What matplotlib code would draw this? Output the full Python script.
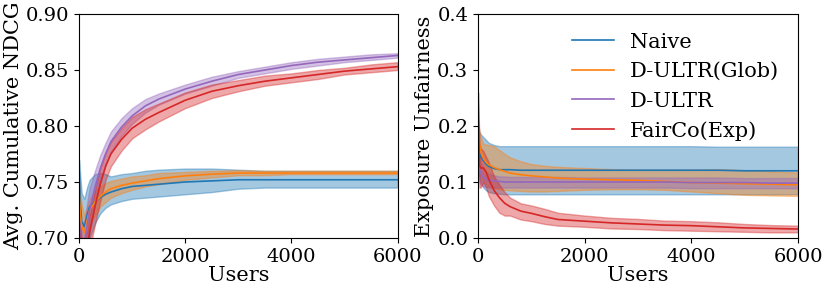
import matplotlib
matplotlib.use('Agg')
import matplotlib.pyplot as plt

plt.rcParams['font.family'] = ['DejaVu Serif']

# number of users (x positions of the read-off points)
users = [0, 25, 50, 100, 150, 200, 300, 400, 500, 600, 800, 1000, 1250, 1500,
         2000, 2500, 3000, 3500, 4000, 4500, 5000, 5500, 6000]

labels = ['Naive', 'D-ULTR(Glob)', 'D-ULTR', 'FairCo(Exp)']
colors = ['tab:blue', 'tab:orange', 'tab:purple', 'tab:red']

# left panel: avg. cumulative NDCG
ndcg_naive = [0.765, 0.73, 0.715, 0.71, 0.72, 0.728, 0.732, 0.736, 0.739, 0.741, 0.744, 0.746,
              0.747, 0.748, 0.750, 0.751, 0.752, 0.752, 0.752, 0.752, 0.752, 0.752, 0.752]
ndcg_naive_lo = [0.74, 0.70, 0.69, 0.685, 0.69, 0.70, 0.713, 0.722, 0.727, 0.730, 0.733, 0.735,
                 0.736, 0.737, 0.739, 0.741, 0.744, 0.745, 0.745, 0.745, 0.745, 0.745, 0.745]
ndcg_naive_hi = [0.77, 0.755, 0.74, 0.735, 0.745, 0.752, 0.757, 0.758, 0.757, 0.755, 0.757, 0.758,
                 0.760, 0.761, 0.762, 0.762, 0.761, 0.760, 0.760, 0.760, 0.760, 0.760, 0.760]

ndcg_glob = [0.745, 0.72, 0.71, 0.705, 0.715, 0.725, 0.732, 0.737, 0.741, 0.744, 0.747, 0.749,
             0.751, 0.753, 0.7555, 0.757, 0.758, 0.758, 0.758, 0.758, 0.758, 0.758, 0.758]
ndcg_glob_lo = [0.72, 0.70, 0.69, 0.69, 0.70, 0.712, 0.72, 0.728, 0.732, 0.736, 0.74, 0.743,
                0.746, 0.748, 0.752, 0.754, 0.756, 0.756, 0.757, 0.757, 0.757, 0.757, 0.757]
ndcg_glob_hi = [0.75, 0.74, 0.73, 0.72, 0.728, 0.735, 0.742, 0.746, 0.749, 0.751, 0.753, 0.755,
                0.756, 0.758, 0.759, 0.760, 0.7605, 0.760, 0.760, 0.760, 0.760, 0.760, 0.760]

ndcg_dultr = [0.72, 0.70, 0.69, 0.695, 0.71, 0.725, 0.745, 0.762, 0.775, 0.786, 0.799, 0.809,
              0.818, 0.824, 0.833, 0.840, 0.846, 0.850, 0.854, 0.857, 0.859, 0.861, 0.863]
ndcg_dultr_lo = [0.70, 0.68, 0.67, 0.675, 0.69, 0.705, 0.73, 0.750, 0.765, 0.777, 0.791, 0.802,
                 0.812, 0.819, 0.829, 0.836, 0.843, 0.847, 0.851, 0.854, 0.857, 0.859, 0.861]
ndcg_dultr_hi = [0.74, 0.72, 0.71, 0.715, 0.73, 0.745, 0.760, 0.774, 0.785, 0.795, 0.807, 0.816,
                 0.824, 0.829, 0.837, 0.844, 0.849, 0.853, 0.857, 0.860, 0.862, 0.864, 0.865]

ndcg_fairco = [0.71, 0.69, 0.68, 0.68, 0.69, 0.705, 0.728, 0.748, 0.764, 0.775, 0.788, 0.798,
               0.806, 0.812, 0.823, 0.831, 0.836, 0.840, 0.843, 0.846, 0.849, 0.851, 0.853]
ndcg_fairco_lo = [0.69, 0.67, 0.66, 0.66, 0.675, 0.69, 0.712, 0.733, 0.752, 0.764, 0.778, 0.789,
                  0.797, 0.804, 0.816, 0.825, 0.831, 0.836, 0.839, 0.842, 0.846, 0.848, 0.850]
ndcg_fairco_hi = [0.73, 0.71, 0.70, 0.70, 0.705, 0.72, 0.743, 0.762, 0.776, 0.786, 0.798, 0.808,
                  0.815, 0.820, 0.830, 0.837, 0.841, 0.845, 0.847, 0.850, 0.852, 0.855, 0.857]

# right panel: exposure unfairness
unf_naive = [0.16, 0.15, 0.145, 0.138, 0.132, 0.128, 0.124, 0.122, 0.122, 0.122, 0.121, 0.121,
             0.121, 0.121, 0.121, 0.121, 0.121, 0.121, 0.121, 0.121, 0.120, 0.120, 0.120]
unf_naive_lo = [0.12, 0.11, 0.10, 0.09, 0.085, 0.082, 0.080, 0.079, 0.078, 0.078, 0.078, 0.078,
                0.078, 0.078, 0.078, 0.078, 0.078, 0.078, 0.078, 0.078, 0.078, 0.078, 0.078]
unf_naive_hi = [0.20, 0.19, 0.185, 0.18, 0.175, 0.17, 0.166, 0.164, 0.164, 0.164, 0.164, 0.164,
                0.164, 0.164, 0.164, 0.164, 0.164, 0.164, 0.164, 0.163, 0.163, 0.163, 0.163]

unf_glob = [0.20, 0.17, 0.155, 0.142, 0.135, 0.131, 0.126, 0.122, 0.119, 0.116, 0.113, 0.111,
            0.109, 0.107, 0.105, 0.104, 0.103, 0.101, 0.099, 0.098, 0.097, 0.096, 0.095]
unf_glob_lo = [0.15, 0.12, 0.11, 0.10, 0.095, 0.092, 0.089, 0.087, 0.086, 0.085, 0.084, 0.083,
               0.083, 0.084, 0.086, 0.087, 0.087, 0.086, 0.083, 0.080, 0.077, 0.076, 0.075]
unf_glob_hi = [0.21, 0.19, 0.18, 0.168, 0.167, 0.166, 0.164, 0.157, 0.150, 0.144, 0.137, 0.132,
               0.129, 0.127, 0.125, 0.123, 0.122, 0.122, 0.122, 0.123, 0.121, 0.119, 0.117]

unf_dultr = [0.14, 0.125, 0.115, 0.108, 0.105, 0.103, 0.102, 0.101, 0.100, 0.100, 0.100, 0.100,
             0.100, 0.100, 0.100, 0.100, 0.100, 0.100, 0.099, 0.099, 0.099, 0.098, 0.098]
unf_dultr_lo = [0.11, 0.10, 0.095, 0.092, 0.091, 0.090, 0.090, 0.090, 0.090, 0.090, 0.090, 0.090,
                0.090, 0.090, 0.090, 0.090, 0.090, 0.090, 0.089, 0.089, 0.089, 0.089, 0.089]
unf_dultr_hi = [0.17, 0.15, 0.135, 0.125, 0.118, 0.115, 0.112, 0.110, 0.110, 0.109, 0.109, 0.109,
                0.109, 0.109, 0.108, 0.108, 0.108, 0.108, 0.108, 0.108, 0.107, 0.107, 0.107]

unf_fairco = [0.25, 0.13, 0.125, 0.125, 0.118, 0.105, 0.085, 0.072, 0.062, 0.056, 0.048, 0.044,
              0.038, 0.033, 0.030, 0.027, 0.025, 0.023, 0.022, 0.020, 0.018, 0.017, 0.016]
unf_fairco_lo = [0.20, 0.09, 0.09, 0.10, 0.09, 0.075, 0.058, 0.045, 0.040, 0.040, 0.033, 0.030,
                 0.025, 0.022, 0.020, 0.017, 0.016, 0.014, 0.013, 0.012, 0.011, 0.010, 0.010]
unf_fairco_hi = [0.26, 0.17, 0.16, 0.155, 0.145, 0.135, 0.110, 0.095, 0.082, 0.072, 0.062, 0.058,
                 0.052, 0.045, 0.040, 0.036, 0.034, 0.031, 0.030, 0.028, 0.025, 0.023, 0.022]

ndcg = [(ndcg_naive, ndcg_naive_lo, ndcg_naive_hi),
        (ndcg_glob, ndcg_glob_lo, ndcg_glob_hi),
        (ndcg_dultr, ndcg_dultr_lo, ndcg_dultr_hi),
        (ndcg_fairco, ndcg_fairco_lo, ndcg_fairco_hi)]
unf = [(unf_naive, unf_naive_lo, unf_naive_hi),
       (unf_glob, unf_glob_lo, unf_glob_hi),
       (unf_dultr, unf_dultr_lo, unf_dultr_hi),
       (unf_fairco, unf_fairco_lo, unf_fairco_hi)]

fig = plt.figure(figsize=(8.3, 2.92), dpi=100)
ax1 = fig.add_axes([0.0952, 0.185, 0.384, 0.767])
ax2 = fig.add_axes([0.576, 0.185, 0.3855, 0.767])

for ax, data in ((ax1, ndcg), (ax2, unf)):
    for (m, lo, hi), c, lab in zip(data, colors, labels):
        ax.fill_between(users, lo, hi, color=c, alpha=0.4, linewidth=1)
        ax.plot(users, m, color=c, linewidth=1.2, label=lab)
    ax.set_xlim(0, 6000)
    ax.set_xticks([0, 2000, 4000, 6000])
    ax.set_xlabel('Users', fontsize=15, labelpad=0)
    ax.tick_params(labelsize=14)

ax1.set_ylim(0.70, 0.90)
ax1.set_yticks([0.70, 0.75, 0.80, 0.85, 0.90])
ax1.set_ylabel('Avg. Cumulative NDCG', fontsize=15, labelpad=2)

ax2.set_ylim(0, 0.4)
ax2.set_yticks([0.0, 0.1, 0.2, 0.3, 0.4])
ax2.set_ylabel('Exposure Unfairness', fontsize=15, labelpad=2)
ax2.legend(loc='upper right', frameon=False, fontsize=15, handlelength=2,
           labelspacing=0.5)

fig.savefig('out.png', dpi=100)
